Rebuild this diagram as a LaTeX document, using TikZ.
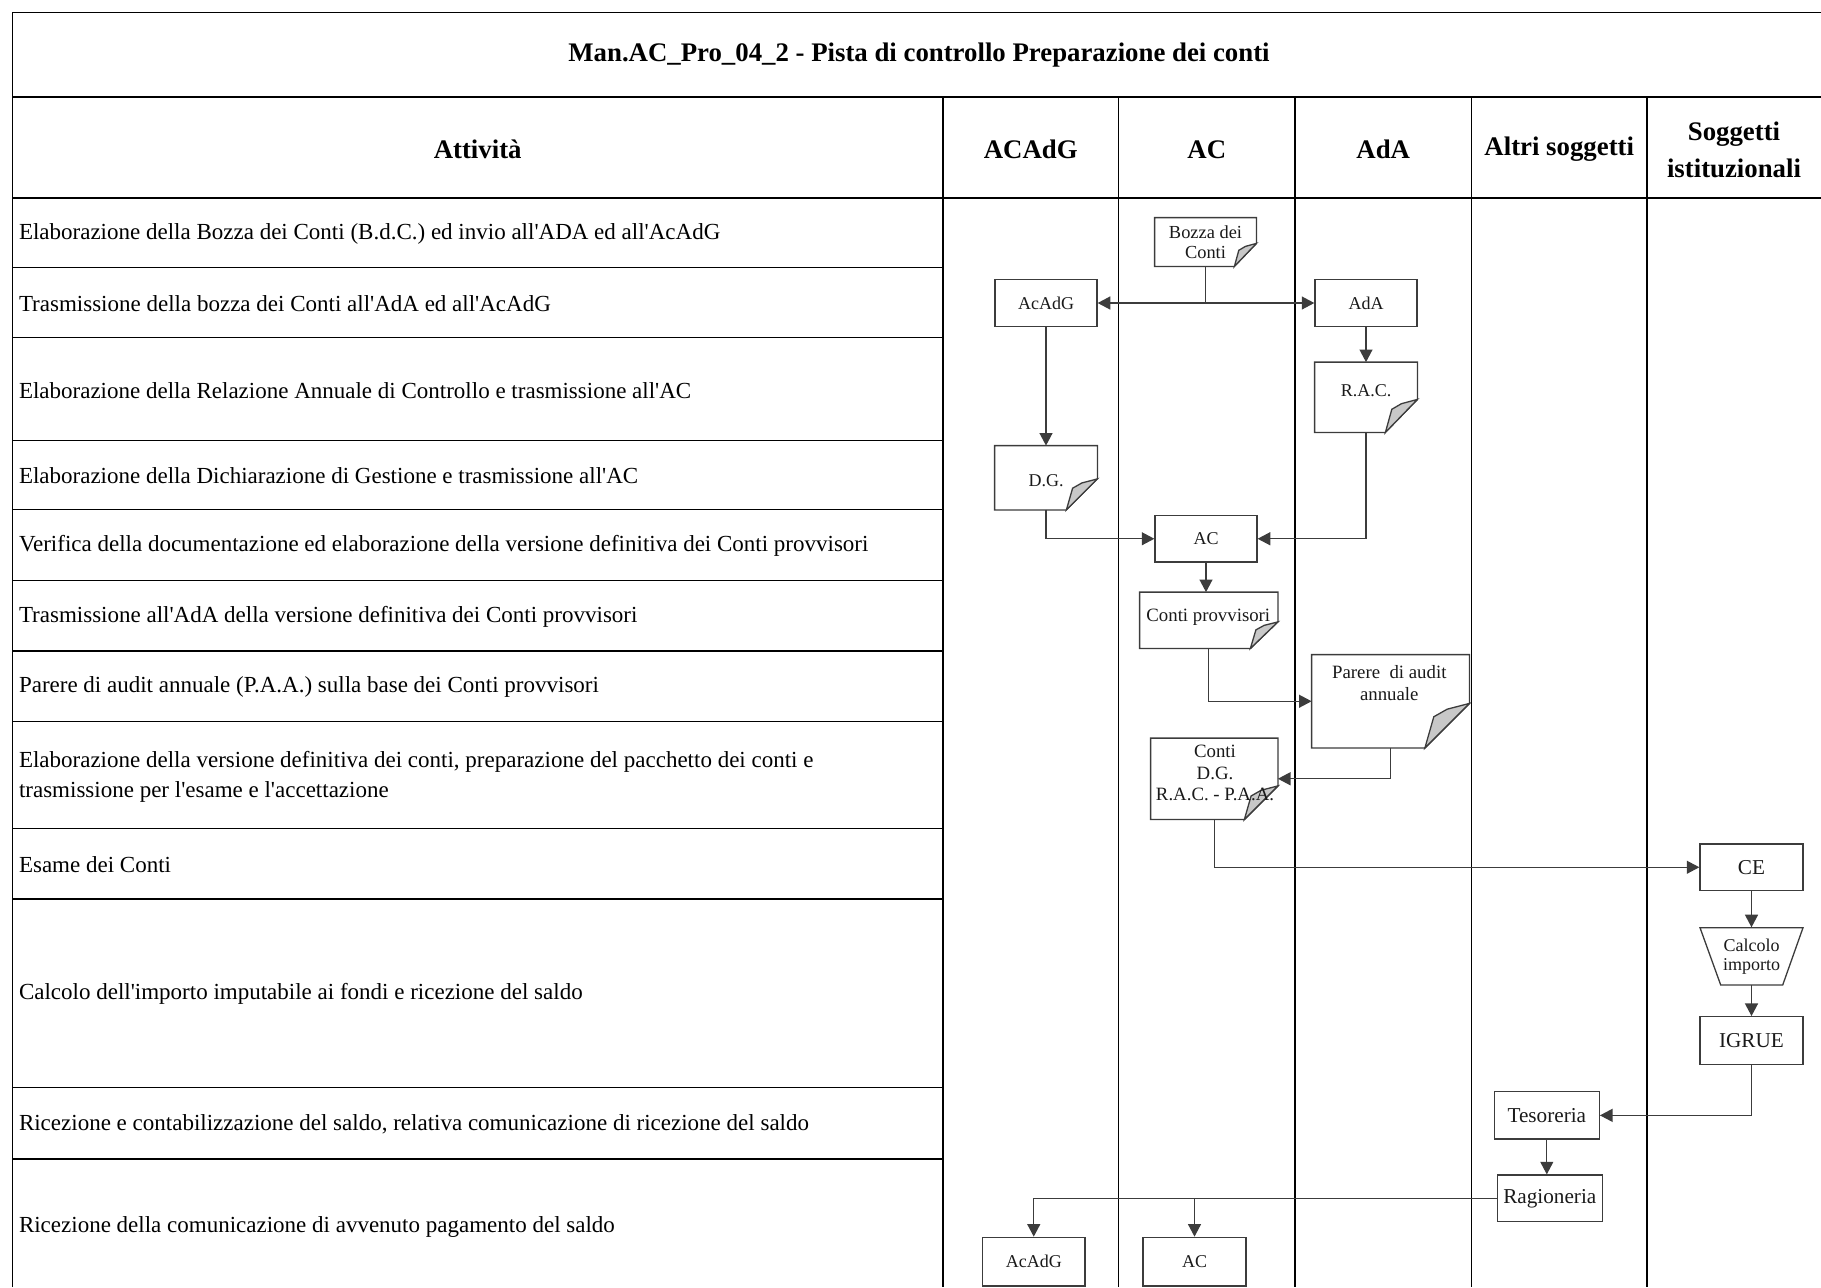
\documentclass[tikz,border=0pt]{standalone}
\usepackage{fontspec}
\setmainfont{Liberation Serif}[Ligatures=TeXOff,BoldFont={Liberation Serif Bold},ItalicFont={Liberation Serif Italic}]
\usetikzlibrary{arrows.meta,calc}
\pgfdeclarelayer{bg}
\pgfsetlayers{bg,main}
\definecolor{linec}{HTML}{3C3C3C}
\definecolor{foldc}{HTML}{C8C8C8}
\definecolor{textc}{HTML}{1A1A1A}
\newcommand\docoutline[3]{%
  \draw[docline,fill=white] (#1.north west) -- (#1.north east) -- ($(#1.south east)+(0,-#3)$) -- ($(#1.south east)+(-#2,0)$) -- (#1.south west) -- cycle;
  \draw[docline,fill=foldc] ($(#1.south east)+(-#2,0)$) -- ($(#1.south east)+(-0.8*#2,-0.7*#3)$) -- ($(#1.south east)+(-0.5*#2,-0.87*#3)$) -- ($(#1.south east)+(0,-#3)$) -- cycle;}
\tikzset{
 tline/.style={line width=0.75pt},
 tthick/.style={line width=1.2pt},
 nbox/.style={draw=linec, line width=0.65pt, fill=white, inner sep=0pt, align=center, text=textc},
 docn/.style={inner sep=0pt},
 ntext/.style={inner sep=0pt, align=center, text=textc},
 docline/.style={draw=linec, line width=0.65pt},
 conn/.style={draw=linec, line width=0.65pt},
 arr/.style={-{Triangle[length=6.3pt,width=6.5pt]}},
 rowt/.style={anchor=west, inner sep=0pt, align=left, font=\fontsize{11.5}{15}\selectfont},
 headt/.style={inner sep=0pt, align=center, font=\bfseries\fontsize{13.4}{18.6}\selectfont},
 fsmall/.style={font=\fontsize{9}{10}\selectfont},
 fbozza/.style={font=\fontsize{9.2}{10}\selectfont},
 fmid/.style={font=\fontsize{9.4}{10.9}\selectfont},
 flarge/.style={font=\fontsize{10.6}{12}\selectfont},
}
\begin{document}
\begin{tikzpicture}[x=0.5pt,y=-0.5pt]
\useasboundingbox (0,0) rectangle (1821,1287);
% ---------- table ----------
\draw[tline] (12.3,1287) -- (12.3,12.3) -- (1821,12.3);
\draw[tthick] (12.3,96.7) -- (1821,96.7);
\draw[tthick] (12.3,197.7) -- (1821,197.7);
\foreach \cx in {943,1118.5,1295,1471.5,1647}
  \draw[tline] (\cx,96.7) -- (\cx,1287);
\foreach \ry in {267.3,337.7,440.7,509.3,580.7,721.7,828.3,1087.3}
  \draw[tline] (12.3,\ry) -- (943,\ry);
\foreach \ry in {650.7,899,1159}
  \draw[tthick] (12.3,\ry) -- (943,\ry);
% ---------- title and headers ----------
\node[headt] (title) at (919,55.5) {Man.AC\_Pro\_04\_2 - Pista di controllo Preparazione dei conti};
\node[headt] (hatt) at (477.7,149.5) {Attività};
\node[headt] (hacadg) at (1030.75,149.5) {ACAdG};
\node[headt] (hac) at (1206.75,149.5) {AC};
\node[headt] (hada) at (1383.25,149.5) {AdA};
\node[headt] (haltri) at (1559.25,149.5) {Altri soggetti};
\node[headt] (hsogg) at (1734,149.5) {Soggetti\\istituzionali};
% ---------- activity rows ----------
\node[rowt] (r1) at (18.6,233.5) {Elaborazione della Bozza dei Conti (B.d.C.) ed invio all'ADA ed all'AcAdG};
\node[rowt] (r2) at (18.6,303.5) {Trasmissione della bozza dei Conti all'AdA ed all'AcAdG};
\node[rowt] (r3) at (18.6,390.2) {Elaborazione della Relazione Annuale di Controllo e trasmissione all'AC};
\node[rowt] (r4) at (18.6,476) {Elaborazione della Dichiarazione di Gestione e trasmissione all'AC};
\node[rowt] (r5) at (18.6,546) {Verifica della documentazione ed elaborazione della versione definitiva dei Conti provvisori};
\node[rowt] (r6) at (18.6,616.7) {Trasmissione all'AdA della versione definitiva dei Conti provvisori};
\node[rowt] (r7) at (18.6,687.2) {Parere di audit annuale (P.A.A.) sulla base dei Conti provvisori};
\node[rowt] (r8) at (18.6,776.5) {Elaborazione della versione definitiva dei conti, preparazione del pacchetto dei conti e\\trasmissione per l'esame e l'accettazione};
\node[rowt] (r9) at (18.6,864.6) {Esame dei Conti};
\node[rowt] (r10) at (18.6,994.1) {Calcolo dell'importo imputabile ai fondi e ricezione del saldo};
\node[rowt] (r11) at (18.6,1124.1) {Ricezione e contabilizzazione del saldo, relativa comunicazione di ricezione del saldo};
\node[rowt] (r12) at (18.6,1227) {Ricezione della comunicazione di avvenuto pagamento del saldo};
% ---------- document nodes ----------
\node[docn, minimum width=50.5pt, minimum height=24pt] (bozza) at (1205.5,242) {};
\node[docn, minimum width=51pt, minimum height=34.75pt] (rac) at (1366,397.25) {};
\node[docn, minimum width=51pt, minimum height=31.75pt] (dg) at (1046,477.75) {};
\node[docn, minimum width=68.75pt, minimum height=27.75pt] (cprov) at (1208.75,620.25) {};
\node[docn, minimum width=78.5pt, minimum height=46.25pt] (parere) at (1390.5,701.25) {};
\node[docn, minimum width=63.25pt, minimum height=40.25pt] (cpkg) at (1214.25,778.75) {};
\begin{pgfonlayer}{bg}
\docoutline{bozza}{22}{23}
\docoutline{rac}{32}{33}
\docoutline{dg}{31}{31}
\docoutline{cprov}{27.5}{26.5}
\docoutline{parere}{44.5}{44.5}
\docoutline{cpkg}{33.5}{33.5}
\end{pgfonlayer}
\node[ntext, fbozza] (bozza-t) at (1205.5,242.5) {Bozza dei\\Conti};
\node[ntext, fsmall] (rac-t) at (1366,391) {R.A.C.};
\node[ntext, fsmall] (dg-t) at (1046,481) {D.G.};
\node[ntext, fmid] (cprov-t) at (1208.3,617.5) {Conti provvisori};
\node[ntext, fmid] (parere-t) at (1389.3,683) {Parere\ \ di audit\\annuale};
\node[ntext, fmid] (cpkg-t) at (1215,773) {Conti\\D.G.\\R.A.C. - P.A.A.};
% ---------- box nodes ----------
\node[nbox, fsmall, minimum width=51pt, minimum height=23.25pt] (acadg1) at (1046,303) {AcAdG};
\node[nbox, fsmall, minimum width=51pt, minimum height=23.25pt] (ada1) at (1366,303) {AdA};
\node[nbox, fsmall, minimum width=51pt, minimum height=23.25pt] (ac1) at (1206,538.75) {AC};
\node[nbox, flarge, minimum width=51.5pt, minimum height=23.25pt] (ce) at (1751.5,867.25) {CE};
\draw[docline, fill=white] (1700,927.7) -- (1803,927.7) -- (1782.7,985) -- (1720.7,985) -- cycle;
\node[ntext, font=\fontsize{9}{9.6}\selectfont, minimum width=51.5pt, minimum height=28.65pt] (calc) at (1751.5,956.35) {Calcolo\\importo};
\node[nbox, flarge, minimum width=51.5pt, minimum height=23.8pt] (igrue) at (1751.5,1040.5) {IGRUE};
\node[nbox, flarge, minimum width=52.5pt, minimum height=23.65pt] (tes) at (1546.8,1115.35) {Tesoreria};
\node[nbox, flarge, minimum width=52.5pt, minimum height=23.35pt] (rag) at (1549.8,1198.35) {Ragioneria};
\node[nbox, fsmall, minimum width=51.25pt, minimum height=24.35pt] (acadg2) at (1033.75,1261.65) {AcAdG};
\node[nbox, fsmall, minimum width=51.5pt, minimum height=24.35pt] (ac2) at (1194.5,1261.65) {AC};
% ---------- connectors ----------
\coordinate (j1) at (bozza.south |- acadg1.east);
\draw[conn] (bozza.south) -- (j1);
\draw[conn, arr] (j1) -- (acadg1.east);
\draw[conn, arr] (j1) -- (ada1.west);
\draw[conn, arr] (acadg1.south) -- (dg.north);
\draw[conn, arr] (ada1.south) -- (rac.north);
\draw[conn, arr] (dg.south) |- (ac1.west);
\draw[conn, arr] (rac.south) |- (ac1.east);
\draw[conn, arr] (ac1.south) -- (ac1.south |- cprov.north);
\draw[conn, arr] (cprov.south) |- (parere.west);
\draw[conn, arr] (parere.south) |- (cpkg.east);
\draw[conn, arr] (cpkg.south) |- (ce.west);
\draw[conn, arr] (ce.south) -- (calc.north);
\draw[conn, arr] (calc.south) -- (igrue.north);
\draw[conn, arr] (igrue.south) |- (tes.east);
\draw[conn, arr] (tes.south) -- (tes.south |- rag.north);
\coordinate (j2) at (ac2.north |- rag.west);
\draw[conn, arr] (rag.west) -| (acadg2.north);
\draw[conn, arr] (j2) -- (ac2.north);
\end{tikzpicture}
\end{document}
